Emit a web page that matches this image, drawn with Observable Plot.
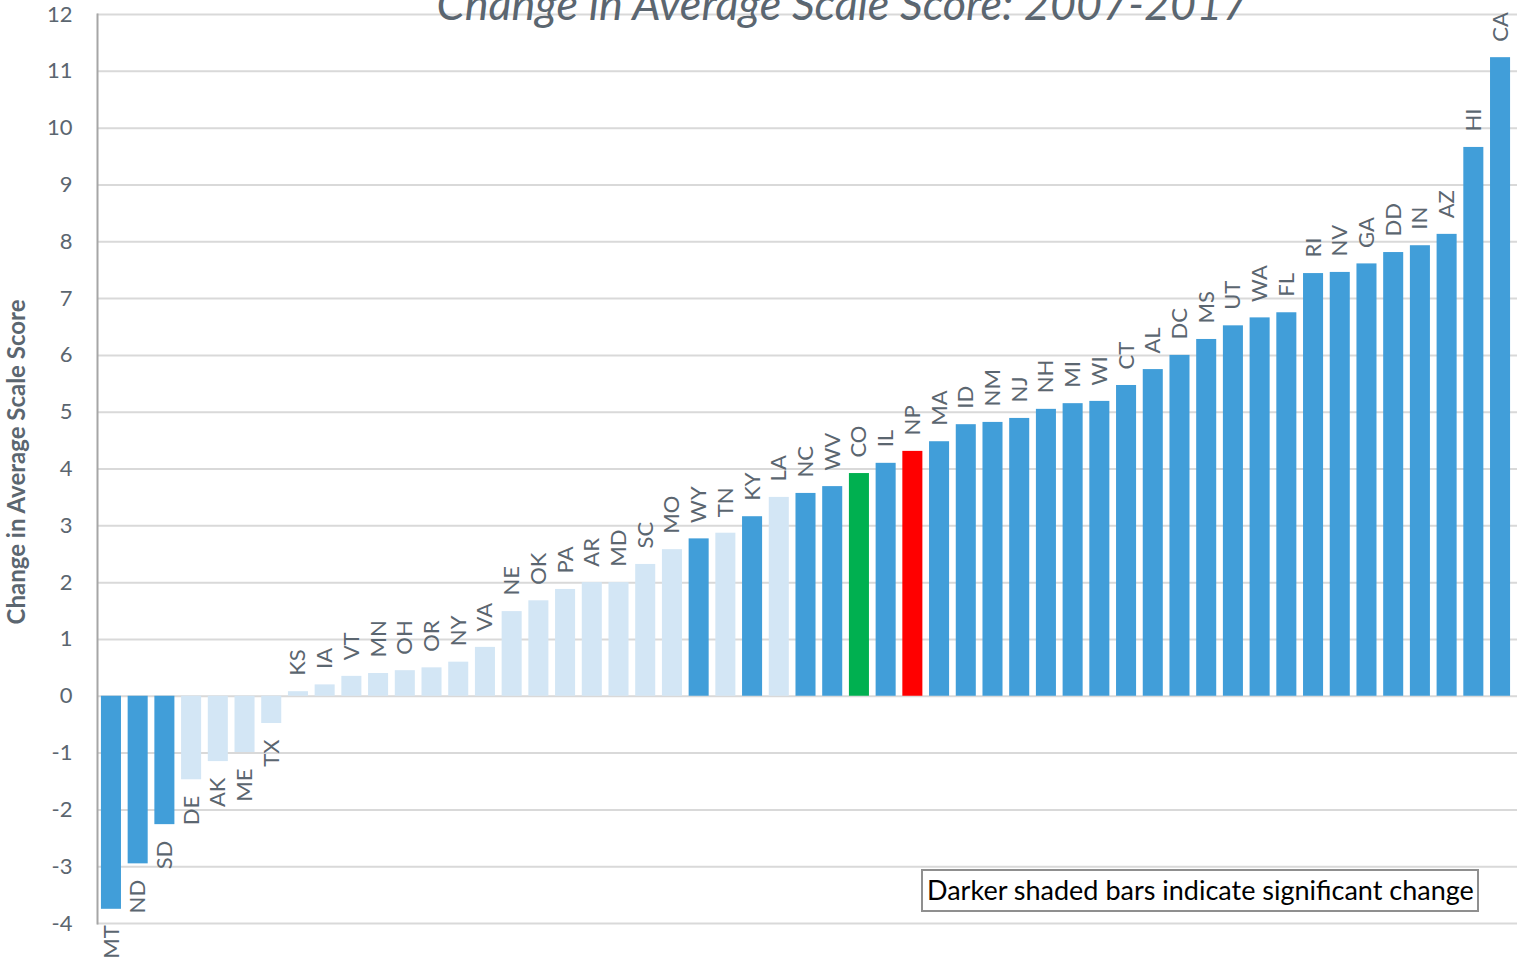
<!DOCTYPE html>
<html>
<head>
<meta charset="utf-8">
<script src="https://cdn.jsdelivr.net/npm/d3@7"></script>
<script src="https://cdn.jsdelivr.net/npm/@observablehq/plot@0.6"></script>
<style>
  body { margin: 0; background: #fff; font-family: Lato, "Open Sans", sans-serif; }
  #wrap { position: relative; width: 1517px; height: 964px; overflow: hidden; }
  #note {
    position: absolute; left: 921px; top: 869px; width: 558px; height: 43px;
    box-sizing: border-box; border: 2px solid #8f8f8f; background: #fff;
    font-size: 27px; line-height: 38px; color: #000; padding-left: 4px; white-space: nowrap;
  }
</style>
</head>
<body>
<div id="wrap"><div id="note">Darker shaded bars indicate significant change</div></div>
<script>
const states = ["MT","ND","SD","DE","AK","ME","TX","KS","IA","VT","MN","OH","OR","NY","VA","NE","OK","PA","AR","MD","SC","MO","WY","TN","KY","LA","NC","WV","CO","IL","NP","MA","ID","NM","NJ","NH","MI","WI","CT","AL","DC","MS","UT","WA","FL","RI","NV","GA","DD","IN","AZ","HI","CA"];
const values = [-3.75,-2.95,-2.26,-1.47,-1.15,-0.99,-0.48,0.08,0.2,0.35,0.4,0.45,0.5,0.6,0.86,1.49,1.68,1.88,2.0,2.0,2.32,2.58,2.77,2.87,3.16,3.5,3.57,3.69,3.92,4.1,4.31,4.48,4.78,4.82,4.89,5.05,5.15,5.19,5.47,5.75,6.0,6.28,6.52,6.66,6.75,7.44,7.46,7.61,7.81,7.93,8.13,9.66,11.24];
// S = significant change, N = not significant, C = Colorado, P = National Public
const groups = ["S","S","S","N","N","N","N","N","N","N","N","N","N","N","N","N","N","N","N","N","N","N","S","N","S","N","S","S","C","S","P","S","S","S","S","S","S","S","S","S","S","S","S","S","S","S","S","S","S","S","S","S","S"];
const groupDomain = ["S","N","C","P"];
const groupColors = ["#419ed9","#d3e6f5","#00b050","#ff0000"];
const yTicks = [-4,-3,-2,-1,0,1,2,3,4,5,6,7,8,9,10,11,12];
const title = "Change in Average Scale Score: 2007-2017";
const yLabel = "Change in Average Scale Score";

const data = states.map((s, i) => ({state: s, value: values[i], group: groups[i]}));
const textColor = "#5b6670";

const chart = Plot.plot({
  width: 1517, height: 964,
  marginLeft: 97, marginRight: 0, marginTop: 14, marginBottom: 41,
  style: {fontFamily: "Lato, 'Open Sans', sans-serif", fontSize: "21px", color: textColor, background: "white"},
  x: {domain: states, range: [97.6, 1513.4], paddingInner: 0.25, paddingOuter: 0.125, axis: null},
  y: {domain: [-4, 12], label: null},
  color: {domain: groupDomain, range: groupColors},
  marks: [
    Plot.ruleY(yTicks, {stroke: "#d9d9d9", strokeWidth: 2}),
    Plot.frame({anchor: "left", stroke: "#a6a6a6", strokeWidth: 2}),
    Plot.axisY(yTicks, {tickSize: 0, tickPadding: 25, tickFormat: d => String(d), fill: textColor, fontSize: 22, label: null}),
    Plot.barY(data, {x: "state", y: "value", fill: "group"}),
    Plot.text(data.filter(d => d.value >= 0), {x: "state", y: "value", text: "state", rotate: -90, textAnchor: "start", lineAnchor: "middle", dy: -16, fill: textColor, fontSize: 22}),
    Plot.text(data.filter(d => d.value < 0), {x: "state", y: "value", text: "state", rotate: -90, textAnchor: "end", lineAnchor: "middle", dy: 16, fill: textColor, fontSize: 22}),
    Plot.text([title], {frameAnchor: "top", lineAnchor: "bottom", dy: 5, dx: 35, fontSize: 45, fontStyle: "italic", fill: textColor}),
    Plot.text([yLabel], {frameAnchor: "left", rotate: -90, textAnchor: "middle", dx: -80, dy: -7, fontSize: 24, fontWeight: "bold", fill: textColor})
  ]
});
document.getElementById("wrap").prepend(chart);
</script>
</body>
</html>
